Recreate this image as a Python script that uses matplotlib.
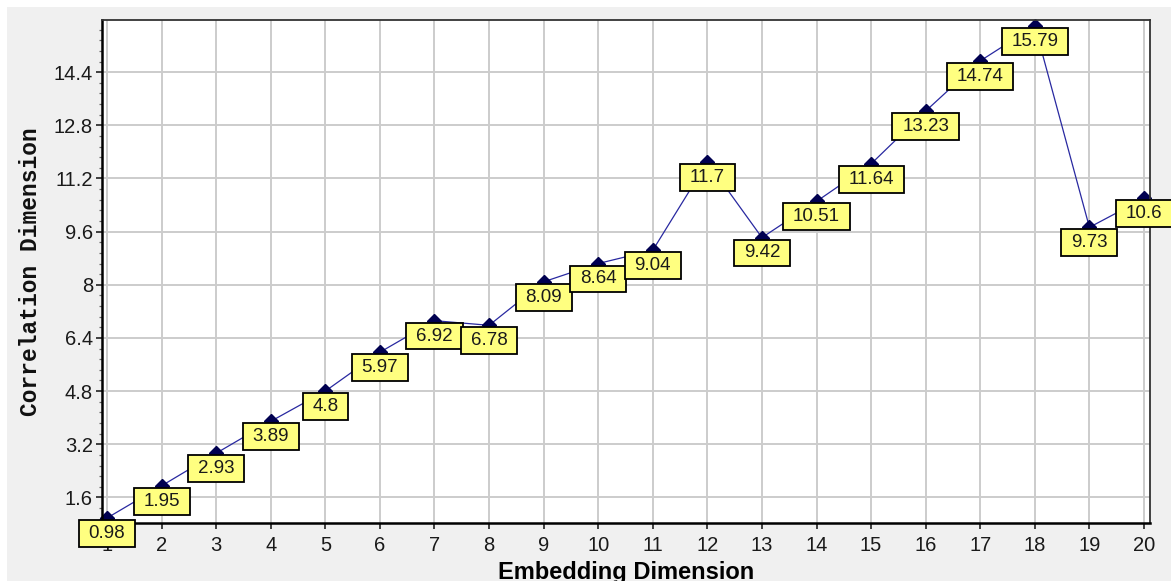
import matplotlib
matplotlib.use("Agg")
import matplotlib.pyplot as plt
from matplotlib.path import Path
from matplotlib.patches import Rectangle
from matplotlib.ticker import FixedLocator, MultipleLocator

# ---- data ----
embedding_dim = [1, 2, 3, 4, 5, 6, 7, 8, 9, 10, 11, 12, 13, 14, 15, 16, 17, 18, 19, 20]
correlation_dim = [0.98, 1.95, 2.93, 3.89, 4.8, 5.97, 6.92, 6.78, 8.09, 8.64,
                   9.04, 11.7, 9.42, 10.51, 11.64, 13.23, 14.74, 15.79, 9.73, 10.6]
point_labels = ["0.98", "1.95", "2.93", "3.89", "4.8", "5.97", "6.92", "6.78", "8.09", "8.64",
                "9.04", "11.7", "9.42", "10.51", "11.64", "13.23", "14.74", "15.79", "9.73", "10.6"]
y_ticks = [1.6, 3.2, 4.8, 6.4, 8.0, 9.6, 11.2, 12.8, 14.4]
y_tick_labels = ["1.6", "3.2", "4.8", "6.4", "8", "9.6", "11.2", "12.8", "14.4"]
x_label = "Embedding Dimension"
y_label = "Correlation Dimension"

W, H = 1171, 581
DPI = 100
fig = plt.figure(figsize=(W / DPI, H / DPI), dpi=DPI)
fig.patch.set_facecolor("white")
fig.patches.append(Rectangle((7 / W, 0), 1 - 7 / W, 1 - 7 / H, transform=fig.transFigure,
                             facecolor="#f0f0f0", edgecolor="none", zorder=-10))

left, right, top, bottom = 102, 1150, 20, 523
ax = fig.add_axes([left / W, 1 - bottom / H, (right - left) / W, (bottom - top) / H])
ax.set_facecolor("white")

ax.plot(embedding_dim, correlation_dim, color="#2828a0", lw=0.9, zorder=2,
        marker="D", ms=6.8, mfc="#000050", mec="#000050", clip_on=False)

ax.set_xlim(0.908, 20.11)
ax.set_ylim(0.83, 15.97)

ax.set_xticks(embedding_dim)
ax.set_xticklabels([str(v) for v in embedding_dim])
ax.yaxis.set_major_locator(FixedLocator(y_ticks))
ax.set_yticklabels(y_tick_labels)
ax.yaxis.set_minor_locator(MultipleLocator(0.32))

ax.grid(True, which="major", color="#cccccc", lw=1.4, zorder=0)
ax.set_axisbelow(True)

tick_family = ["Liberation Sans", "DejaVu Sans"]
for lab in ax.get_xticklabels() + ax.get_yticklabels():
    lab.set_fontfamily(tick_family)
    lab.set_fontsize(14.5)
    lab.set_color("#1a1a1a")
ax.tick_params(axis="x", which="major", length=4.5, width=1.2, pad=5, color="#222222")
ax.tick_params(axis="y", which="major", length=4, width=1.2, pad=2.5, color="#222222")
ax.tick_params(axis="y", which="minor", length=2.2, width=0.9, color="#666666")

for side in ("left", "bottom"):
    ax.spines[side].set_linewidth(1.8)
    ax.spines[side].set_color("black")
for side in ("top", "right"):
    ax.spines[side].set_linewidth(1.3)
    ax.spines[side].set_color("#333333")


def label_box(x0, y0, width, height, mutation_size):
    padx = 0.52 * mutation_size
    pady = 0.26 * mutation_size
    x0 -= padx
    y0 -= pady
    x1 = x0 + width + 2 * padx
    y1 = y0 + height + 2 * pady
    return Path([(x0, y0), (x1, y0), (x1, y1), (x0, y1), (x0, y0)],
                [Path.MOVETO, Path.LINETO, Path.LINETO, Path.LINETO, Path.CLOSEPOLY])


fs = 13.5
pady_px = 0.26 * fs * DPI / 72
gap_px = 2
for x, y, t in zip(embedding_dim, correlation_dim, point_labels):
    ax.annotate(t, (x, y), xytext=(0, -(gap_px + pady_px) * 72 / DPI),
                textcoords="offset points", ha="center", va="top",
                fontsize=fs, family=["Liberation Sans", "DejaVu Sans"], color="#1a1a1a",
                bbox=dict(boxstyle=label_box, facecolor="#ffff80", edgecolor="black", lw=1.3),
                annotation_clip=False, zorder=4)

fig.text((left + right) / 2 / W, 2 / H, x_label, ha="center", va="baseline",
         fontsize=17, fontweight="bold", family=["Liberation Sans", "DejaVu Sans"], color="black")
fig.text(31 / W, 1 - (top + bottom) / 2 / H, y_label, ha="center", va="center", rotation=90,
         fontsize=16.5, fontweight="bold", family=["Liberation Mono", "DejaVu Sans Mono"], color="#111111")

fig.savefig("out.png", dpi=DPI, facecolor=fig.get_facecolor())
